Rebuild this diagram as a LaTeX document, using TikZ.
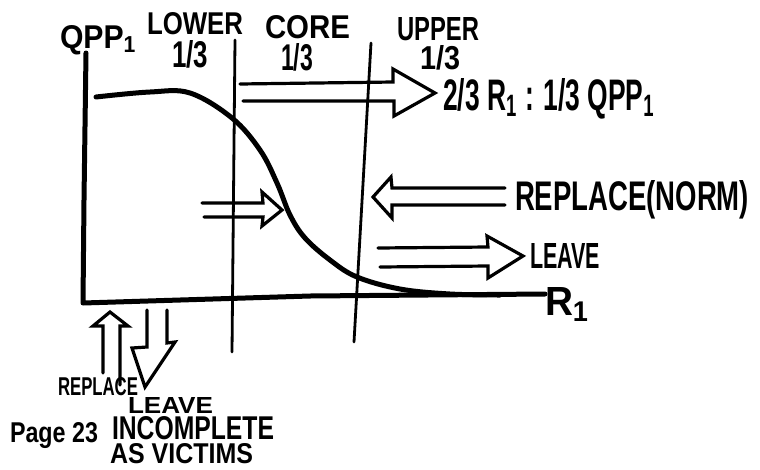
\documentclass[tikz,border=0pt]{standalone}
\usepackage{fontspec}
\setmainfont{Liberation Sans}
\usepackage{graphicx}
\newcommand\hw[3]{\resizebox{#1pt}{#2pt}{#3}}
\tikzset{
  ink/.style={line width=5pt, line cap=round, line join=round},
  thinink/.style={line width=2.8pt, line cap=round},
  harrow/.style={line width=3.2pt, line cap=round, line join=miter},
  hand/.style={inner sep=0pt, outer sep=0pt, anchor=base west, font=\bfseries},
}
\begin{document}
\begin{tikzpicture}[x=1pt,y=-1pt]
\useasboundingbox[fill=white] (0,0) rectangle (760,469);
% axes
\coordinate (ytop) at (86,53);
\coordinate (origin) at (83,303);
\coordinate (xend) at (545,294);
\draw[ink] (ytop) -- (84,200) -- (origin) -- (310,296) -- (xend);
% dividers
\coordinate (d1t) at (235,40); \coordinate (d1b) at (232,352);
\coordinate (d2t) at (371,43); \coordinate (d2b) at (354,342);
\draw[thinink] (d1t) -- (d1b);
\draw[thinink] (d2t) -- (d2b);
% curve
\draw[ink] plot[smooth, tension=0.6] coordinates {(96,97) (150,92) (190,93) (232,118) (260,150) (277,183) (290,215) (305,238) (330,260) (357,277) (400,289) (450,294) (500,295)};
% hollow arrows
\draw[harrow] (240,84) -- (393,82) -- (393,69) -- (435,93) -- (394,116) -- (394,101) -- (243,101);
\draw[harrow] (202,203) -- (263,203) -- (262,192) -- (282,210) -- (262,226) -- (263,217) -- (204,217);
\draw[harrow] (505,188) -- (392,188) -- (391,177) -- (373,197) -- (392,218) -- (392,205) -- (505,205);
\draw[harrow] (378,248) -- (488,247) -- (487,236) -- (523,256) -- (488,278) -- (488,266) -- (380,267);
\draw[harrow] (103,373) -- (103,326) -- (93,326) -- (110,312) -- (128,326) -- (120,326) -- (120,385);
\draw[harrow] (147,310) -- (147,347) -- (132,348) -- (145,387) -- (175,342) -- (167,343) -- (167,310);
% labels
\node[hand] (qpp) at (60,48) {\hw{77}{23}{QPP\textsubscript{1}}};
\node[hand] (lower) at (147,34) {\hw{96}{22}{LOWER}};
\node[hand] (lowf) at (172,67) {\hw{36}{27}{1/3}};
\node[hand] (core) at (265,38) {\hw{85}{23}{CORE}};
\node[hand] (coref) at (281,70) {\hw{32}{27}{1/3}};
\node[hand] (upper) at (397,40) {\hw{82}{23}{UPPER}};
\node[hand] (upf) at (420,69) {\hw{40}{24}{1/3}};
\node[hand] (ratio) at (443,110) {\hw{212}{32}{2/3 R\textsubscript{1} : 1/3 QPP\textsubscript{1}}};
\node[hand] (repn) at (515,210) {\hw{234}{30}{REPLACE(NORM)}};
\node[hand] (leave) at (530,268) {\hw{70}{25}{LEAVE}};
\node[hand] (r1) at (545,315) {\hw{45}{28}{R\textsubscript{1}}};
\node[hand] (brep) at (58,395) {\hw{80}{18}{REPLACE}};
\node[hand] (bleave) at (128,413) {\hw{85}{16}{LEAVE}};
\node[hand] (binc) at (112,439) {\hw{162}{23}{INCOMPLETE}};
\node[hand] (bvic) at (110,463) {\hw{143}{20}{AS VICTIMS}};
\node[hand] (page) at (10,442) {\hw{88}{20}{Page 23}};
\end{tikzpicture}
\end{document}
